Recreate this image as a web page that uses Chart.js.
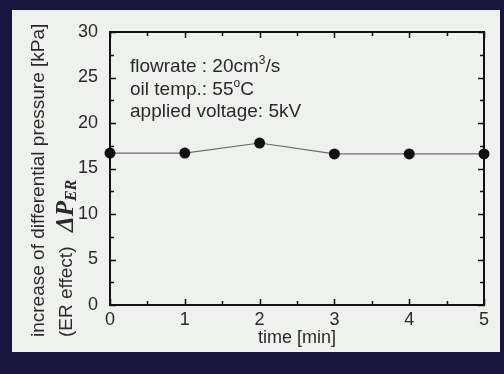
<!DOCTYPE html>
<html>
<head>
<meta charset="utf-8">
<script src="https://cdn.jsdelivr.net/npm/chart.js@4"></script>
<style>
html,body{margin:0;padding:0;background:#16163f;}
#wrap{position:relative;width:504px;height:374px;overflow:hidden;background:#16163f;}
#panel{position:absolute;left:12px;top:10px;width:488px;height:342px;background:#eff1ee;}
#chart{position:absolute;left:0;top:0;}
</style>
</head>
<body>
<div id="wrap">
<div id="panel"></div>
<canvas id="chart" width="504" height="374"></canvas>
</div>
<script>
// time [min] and increase of differential pressure [kPa]
const minutes = [0,1,2,3,4,5];
const pressureER = [16.7,16.7,17.8,16.6,16.6,16.6];

const xTicks = [0,1,2,3,4,5];
const yTicks = [0,5,10,15,20,25,30];

const yTitle1 = "increase of differential pressure [kPa]";
const yTitle2 = "(ER effect)";
const xTitle = "time [min]";

const INK = "#2a2a2a";
const SANS = "'Liberation Sans', Arial, sans-serif";
const SERIF = "'Liberation Serif', 'Times New Roman', serif";

/* frame, inward ticks, side labels and notes */
const decorations = {
id:"decorations",
beforeDatasetsDraw(chart){
const ctx = chart.ctx;
const a = chart.chartArea;
const xs = chart.scales.x, ys = chart.scales.y;
ctx.save();
ctx.strokeStyle = "#111";
ctx.lineWidth = 1.5;
// minor + major ticks on all four sides
for(let i=0;i<=12;i++){
const v = i*2.5;
const len = (i%2==0) ? 6 : 4;
const py = Math.round(ys.getPixelForValue(v))+0.5;
ctx.beginPath();
ctx.moveTo(a.left,py);ctx.lineTo(a.left+len,py);
ctx.moveTo(a.right,py);ctx.lineTo(a.right-len,py);
ctx.stroke();
}
for(let i=0;i<=10;i++){
const v = i*0.5;
const len = (i%2==0) ? 6 : 4;
const px = Math.round(xs.getPixelForValue(v))+0.5;
ctx.beginPath();
ctx.moveTo(px,a.bottom);ctx.lineTo(px,a.bottom-len);
ctx.moveTo(px,a.top);ctx.lineTo(px,a.top+len);
ctx.stroke();
}
ctx.lineWidth = 2;
ctx.strokeRect(a.left,a.top,a.right-a.left,a.bottom-a.top);
ctx.restore();
},
afterDraw(chart){
const ctx = chart.ctx;
const a = chart.chartArea;
ctx.save();
ctx.fillStyle = INK;

// rotated y titles, read bottom to top
ctx.save();
ctx.translate(0,337);
ctx.rotate(-Math.PI/2);
ctx.textAlign = "left";
ctx.textBaseline = "alphabetic";
ctx.font = "19px "+SANS;
ctx.fillText(yTitle1,0,44);
ctx.fillText(yTitle2,0,72);
// ΔP with ER subscript on the second line
let x = 105;
ctx.font = "bold italic 25px "+SERIF;
ctx.fillText("ΔP",x,73);
x += ctx.measureText("ΔP").width;
ctx.font = "bold italic 16px "+SERIF;
ctx.fillText("ER",x,76);
ctx.restore();

// condition notes
const x0 = a.left+20;
const big = "19px "+SANS;
const small = "12px "+SANS;
ctx.textAlign = "left";
ctx.textBaseline = "alphabetic";
const lines = [
[["flowrate : 20cm",0],["3",1],["/s",0]],
[["oil temp.: 55",0],["o",1],["C",0]],
[["applied voltage: 5kV",0]]
];
lines.forEach((segs,i)=>{
let tx = x0;
const y = a.top+40+i*22.5;
segs.forEach(([t,sup])=>{
ctx.font = sup ? small : big;
ctx.fillText(t,tx,sup ? y-8 : y);
tx += ctx.measureText(t).width;
});
});
ctx.restore();
}
};

const ctx = document.getElementById("chart");

new Chart(ctx,{
type:"scatter",
data:{
datasets:[{
data: minutes.map((m,i)=>({x:m,y:pressureER[i]})),
showLine:true,
borderColor:"#6a6a6a",
borderWidth:1.2,
pointRadius:5.5,
pointHoverRadius:5.5,
pointBackgroundColor:"#111",
pointBorderColor:"#111",
pointBorderWidth:0,
clip:false
}]
},
options:{
responsive:false,
animation:false,
events:[],
layout:{
padding:{top:32,right:20,bottom:20,left:0}
},
plugins:{
legend:{display:false},
tooltip:{enabled:false}
},
scales:{
x:{
type:"linear",
min:0,max:5,
afterFit:(s)=>{s.height=49;},
afterBuildTicks:(s)=>{s.ticks = xTicks.map(v=>({value:v}));},
grid:{display:false,drawTicks:false},
border:{display:false},
ticks:{
color:INK,
padding:4,
maxRotation:0,
font:{family:SANS,size:18}
},
title:{
display:true,
text:xTitle,
color:INK,
padding:{top:0,bottom:5},
font:{family:SANS,size:18}
}
},
y:{
type:"linear",
min:0,max:30,
afterFit:(s)=>{s.width=110;},
afterBuildTicks:(s)=>{s.ticks = yTicks.map(v=>({value:v}));},
grid:{display:false,drawTicks:false},
border:{display:false},
ticks:{
color:INK,
padding:12,
font:{family:SANS,size:18}
}
}
}
},
plugins:[decorations]
});
</script>
</body>
</html>
